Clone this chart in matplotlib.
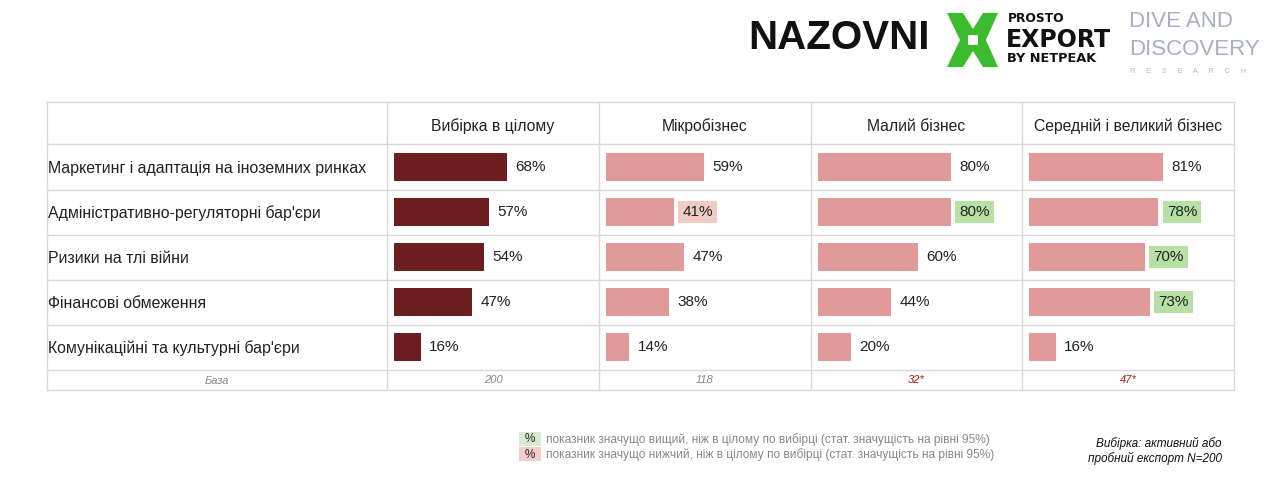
import matplotlib.pyplot as plt
from matplotlib.patches import Rectangle, Polygon

plt.rcParams['font.family'] = ['Liberation Sans', 'DejaVu Sans']

categories = ['Маркетинг і адаптація на іноземних ринках',
              'Адміністративно-регуляторні бар\'єри',
              'Ризики на тлі війни',
              'Фінансові обмеження',
              'Комунікаційні та культурні бар\'єри']
groups = ['Вибірка в цілому', 'Мікробізнес', 'Малий бізнес',
          'Середній і великий бізнес']
total = [68, 57, 54, 47, 16]
micro = [59, 41, 47, 38, 14]
small = [80, 80, 60, 44, 20]
large = [81, 78, 70, 73, 16]
# significance vs whole sample: 1 higher, -1 lower, 0 none
sig_micro = [0, -1, 0, 0, 0]
sig_small = [0, 1, 0, 0, 0]
sig_large = [0, 1, 1, 1, 0]
bases = ['200', '118', '32*', '47*']

series = [total, micro, small, large]
sigs = [[0] * 5, sig_micro, sig_small, sig_large]

W, H = 1280, 478
fig = plt.figure(figsize=(12.8, 4.78), dpi=100)
bg = fig.add_axes([0, 0, 1, 1])
bg.set_xlim(0, W)
bg.set_ylim(H, 0)
bg.axis('off')

# table grid
col_x = [47, 387, 599, 811, 1022, 1234]
row_y = [102, 144, 190, 235, 280, 325, 370, 390]
grid_c = '#d9d9d9'
for y in row_y:
    bg.plot([col_x[0], col_x[-1]], [y, y], color=grid_c, lw=1)
for x in col_x:
    bg.plot([x, x], [row_y[0], row_y[-1]], color=grid_c, lw=1)

# headers
for i, g in enumerate(groups):
    bg.text((col_x[i + 1] + col_x[i + 2]) / 2, 126, g, ha='center',
            va='center', fontsize=11.3, color='#222222')

# row labels
for i, c in enumerate(categories):
    bg.text(48, (row_y[i + 1] + row_y[i + 2]) / 2 + 1, c, ha='left',
            va='center', fontsize=11.4, color='#222222')

# base row
bg.text((col_x[0] + col_x[1]) / 2, 381, 'База', ha='center', va='center',
        fontsize=8, style='italic', color='#888888')
for i, b in enumerate(bases):
    c = '#a51c1c' if '*' in b else '#888888'
    bg.text((col_x[i + 1] + col_x[i + 2]) / 2, 380, b, ha='center',
            va='center', fontsize=8, style='italic', color=c)

# bars
px_per_pct = 1.66
for j, (vals, sg) in enumerate(zip(series, sigs)):
    x0 = col_x[j + 1] + 7
    x1 = col_x[j + 2]
    ax = fig.add_axes([x0 / W, 1 - row_y[6] / H, (x1 - x0) / W,
                       (row_y[6] - row_y[1]) / H])
    ax.set_xlim(0, (x1 - x0) / px_per_pct)
    ax.set_ylim(len(vals) - 0.5, -0.5)
    ax.axis('off')
    color = '#6d1f1f' if j == 0 else '#e09a9a'
    ax.barh(range(len(vals)), vals, height=0.62, color=color)
    for k, (v, s) in enumerate(zip(vals, sg)):
        box = None
        if s == 1:
            box = dict(boxstyle='square,pad=0.27', fc='#b7e1a4', ec='none')
        elif s == -1:
            box = dict(boxstyle='square,pad=0.27', fc='#f0cbc4', ec='none')
        ax.annotate(f'{v}%', (v, k), xytext=(6, 0), textcoords='offset points',
                    ha='left', va='center', fontsize=11, color='#222222',
                    bbox=box)

# legend footnote
bg.add_patch(Rectangle((519, 432), 22, 14, fc='#d9ead3', ec='none'))
bg.add_patch(Rectangle((519, 447), 22, 14, fc='#f4cccc', ec='none'))
bg.text(530, 439.5, '%', ha='center', va='center', fontsize=8.5, color='#222222')
bg.text(530, 454.5, '%', ha='center', va='center', fontsize=8.5, color='#222222')
bg.text(546, 439.5, 'показник значущо вищий, ніж в цілому по вибірці (стат. значущість на рівні 95%)',
        ha='left', va='center', fontsize=8.6, color='#888888')
bg.text(546, 454.5, 'показник значущо нижчий, ніж в цілому по вибірці (стат. значущість на рівні 95%)',
        ha='left', va='center', fontsize=8.6, color='#888888')
bg.text(1222, 443, 'Вибірка: активний або', ha='right', va='center',
        fontsize=8.5, style='italic', color='#111111')
bg.text(1222, 458, 'пробний експорт N=200', ha='right', va='center',
        fontsize=8.5, style='italic', color='#111111')

# logos
bg.text(748, 38, 'NAZOVNI', ha='left', va='center', fontsize=29,
        fontweight='bold', color='#111111')
green = '#3dbb2f'
bg.add_patch(Polygon([(947, 13), (963, 13), (973, 29), (983, 13), (998, 13),
                      (986, 40), (998, 67), (983, 67), (973, 51), (963, 67),
                      (947, 67), (960, 40)], closed=True, fc=green, ec='none'))
bg.add_patch(Rectangle((968, 35), 10, 10, fc='white', ec='none'))
dv = ['DejaVu Sans']
bg.text(1008, 18.5, 'PROSTO', ha='left', va='center', fontsize=8.8,
        fontweight='bold', color='#111111', family=dv)
bg.text(1006, 40, 'EXPORT', ha='left', va='center', fontsize=17,
        fontweight='bold', color='#111111', family=dv)
bg.text(1007, 58.5, 'BY NETPEAK', ha='left', va='center', fontsize=9.3,
        fontweight='bold', color='#111111', family=dv)
bg.text(1129, 21, 'DIVE AND', ha='left', va='center', fontsize=16,
        color='#a9adc6')
bg.text(1129, 49, 'DISCOVERY', ha='left', va='center', fontsize=16,
        color='#a9adc6')
bg.text(1130, 71, 'R     E     S     E     A     R     C     H', ha='left',
        va='center', fontsize=5.5, color='#b5b8cc')

fig.savefig('out.png', dpi=100, facecolor='white')
